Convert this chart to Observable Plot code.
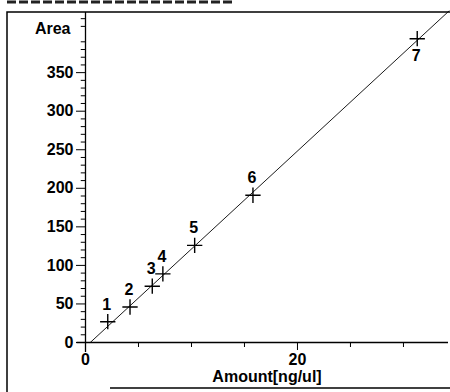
<!DOCTYPE html>
<html>
<head>
<meta charset="utf-8">
<script src="https://cdn.jsdelivr.net/npm/d3@7"></script>
<script src="https://cdn.jsdelivr.net/npm/@observablehq/plot@0.6"></script>
<style>
  html, body { margin: 0; padding: 0; background: #fff; }
  #chart { width: 450px; height: 392px; }
</style>
</head>
<body>
<div id="chart"></div>
<script>
// Calibration points
const labels = ["1", "2", "3", "4", "5", "6", "7"];
const amounts = [2.1, 4.2, 6.3, 7.3, 10.3, 15.8, 31.3];
const areas = [27, 46, 73, 89, 126, 191, 394];

// Calibration line endpoints
const lineAmount = [0.45, 34.3];
const lineArea = [0, 430];

// Axis ticks
const yMajor = [0, 50, 100, 150, 200, 250, 300, 350];
const yMinor = [10, 20, 30, 40, 60, 70, 80, 90, 110, 120, 130, 140, 160, 170, 180, 190,
  210, 220, 230, 240, 260, 270, 280, 290, 310, 320, 330, 340, 360, 370, 380, 390, 410, 420];
const xMajor = [0, 20];
const xMinor = [5, 10, 15, 25, 30];

const points = labels.map((l, i) => ({label: l, amount: amounts[i], area: areas[i]}));
const line = lineAmount.map((a, i) => ({amount: a, area: lineArea[i]}));

const font = "'Liberation Sans', Arial, sans-serif";
const fs = 16;

const chart = Plot.plot({
  width: 450,
  height: 392,
  marginLeft: 85,
  marginRight: 2,
  marginTop: 12,
  marginBottom: 50,
  style: {fontFamily: font, fontSize: fs + "px", fontWeight: "bold", color: "#000", background: "#fff"},
  x: {type: "linear", domain: [0, 34.25]},
  y: {type: "linear", domain: [0, 428]},
  marks: [
    // minor y ticks
    Plot.ruleY(yMinor, {y: d => d, x1: -0.4, x2: 0, stroke: "#000", strokeWidth: 1}),
    Plot.axisY({ticks: yMajor, tickSize: 9, tickPadding: 3, label: null, fontWeight: "bold", fontSize: fs}),
    Plot.axisX({ticks: xMinor, tickSize: 5, tickFormat: () => "", label: null}),
    Plot.axisX({ticks: xMajor, tickSize: 8, tickPadding: 3, label: null, fontWeight: "bold", fontSize: fs}),
    // axis lines
    Plot.ruleX([0], {y1: -13, y2: 428, stroke: "#000", strokeWidth: 1.3}),
    Plot.ruleY([0], {x1: -0.8, x2: 34.25, stroke: "#000", strokeWidth: 1.5}),
    // calibration line
    Plot.line(line, {x: "amount", y: "area", stroke: "#000", strokeWidth: 0.9}),
    // crosses
    Plot.dot(points, {x: "amount", y: "area", symbol: "plus", r: 5, stroke: "#000", strokeWidth: 1.4}),
    // point labels
    Plot.text(points.filter(d => d.label !== "7"), {x: "amount", y: "area", text: "label",
      dy: -17, dx: -1, fontWeight: "bold", fontSize: fs, fill: "#000"}),
    Plot.text(points.filter(d => d.label === "7"), {x: "amount", y: "area", text: "label",
      dy: 17, dx: -1, fontWeight: "bold", fontSize: fs, fill: "#000"}),
    // axis titles
    Plot.text(["Area"], {frameAnchor: "top-left", dx: -15, dy: 10, textAnchor: "end", fontWeight: "bold", fontSize: fs, fill: "#000"}),
    Plot.text(["Amount[ng/ul]"], {frameAnchor: "bottom", dy: 39, fontWeight: "bold", fontSize: fs, fill: "#000"})
  ]
});

// outer frame of the scanned figure
const svg = d3.select(chart);
svg.append("path")
  .attr("d", "M7,392 V12 H450")
  .attr("fill", "none").attr("stroke", "#000").attr("stroke-width", 1.5);
svg.append("path")
  .attr("d", "M110,388 H450")
  .attr("fill", "none").attr("stroke", "#000").attr("stroke-width", 1.3);
svg.append("path")
  .attr("d", "M7,2 H235")
  .attr("fill", "none").attr("stroke", "#222").attr("stroke-width", 3).attr("stroke-dasharray", "9,3");

document.getElementById("chart").appendChild(chart);
</script>
</body>
</html>
